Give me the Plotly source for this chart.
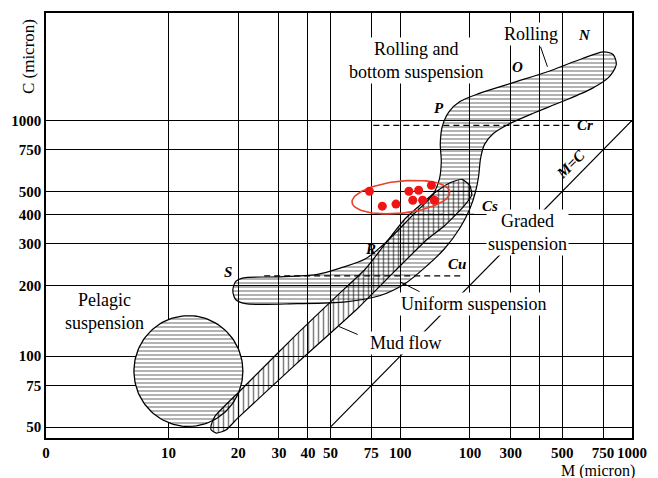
import numpy as np
import plotly.graph_objects as go

# ---------------- axis ticks ----------------
x_tick_vals = [2.965, 10, 20, 30, 40, 50, 75, 100, 200, 300, 400, 500, 750, 1000]
x_tick_text = ["0", "10", "20", "30", "40", "50", "75", "100", "100", "300", "", "500", "750", "1000"]
y_tick_vals = [50, 75, 100, 200, 300, 400, 500, 750, 1000]
y_tick_text = ["50", "75", "100", "200", "300", "400", "500", "750", "1000"]

# ---------------- field outlines (M, C in micron) ----------------
# S - R - Q - P - O - N band (horizontal hatching)
band_M = [18.96, 19.5, 21.1, 29.4, 43.5, 55.5, 70.9, 87.9, 113.3, 137.7, 147.5, 150.4,
          148.9, 151.9, 162.6, 181.0, 217.9, 306.8, 431.8, 607.7, 753.4, 830.5, 855.2,
          791.1, 670.0, 499.7, 372.9, 292.2, 252.3, 231.1, 222.2, 217.9, 211.6, 199.6,
          181.0, 154.9, 127.4, 104.8, 82.1, 58.3, 35.8, 21.5, 19.5]
band_C = [190, 207, 215, 217, 222, 237, 259, 308, 397, 482, 563, 671,
          792, 943, 1091, 1203, 1300, 1447, 1610, 1827, 1956, 1900, 1724,
          1519, 1365, 1203, 1071, 962, 881, 792, 691, 580, 501, 421,
          350, 285, 237, 203, 181, 170, 167, 167, 174]

# Mud flow band (vertical hatching)
mud_M = [15.3, 15.9, 20.5, 35.8, 52.9, 70.9, 104.8, 140.4, 162.6, 184.6, 199.6, 203.5,
         188.3, 154.9, 131.2, 95.0, 66.2, 35.8, 19.9, 17.7, 16.1, 15.3]
mud_C = [51.0, 55.7, 71.7, 124, 179, 235, 382, 492, 542, 563, 531, 482,
         433, 357, 314, 230, 161, 93.2, 54.6, 48.6, 47.2, 48.6]

# Pelagic suspension circle
pelagic_center_M = 12.2
pelagic_center_C = 86.5
pelagic_radius_decades = 0.235

# Samples (red points) and their enclosing ellipse
sample_M = [73.7, 83.7, 95.9, 109.0, 120.1, 113.3, 124.9, 136.4, 140.4]
sample_C = [501, 433, 442, 501, 506, 459, 459, 531, 459]
ellipse_center_M = 100.7
ellipse_center_C = 473
ellipse_semi_major_decades = 0.212
ellipse_semi_minor_decades = 0.068
ellipse_tilt_deg = 6

# Reference lines
Cr_M = [76.6, 540]
Cr_C = [953, 953]
Cs_M = [88.7, 213.7]
Cs_C = [400, 400]
Cu_M = [25.9, 188.3]
Cu_C = [219, 219]
MC_M = [50, 1000]
MC_C = [50, 1000]

SERIF = "Liberation Serif"

fig = go.Figure()

# main band
fig.add_trace(go.Scatter(
    x=band_M + band_M[:1], y=band_C + band_C[:1], mode="lines",
    line=dict(color="black", width=1.2, shape="spline", smoothing=0.8),
    fill="toself", fillcolor="rgba(0,0,0,0)",
    fillpattern=dict(shape="-", fgcolor="black", bgcolor="rgba(255,255,255,0)",
                     size=4, solidity=0.3),
    hoverinfo="skip", showlegend=False))

# pelagic circle
t = np.linspace(0, 2 * np.pi, 120)
circ_M = 10 ** (np.log10(pelagic_center_M) + pelagic_radius_decades * np.cos(t))
circ_C = 10 ** (np.log10(pelagic_center_C) + pelagic_radius_decades * np.sin(t))
fig.add_trace(go.Scatter(
    x=circ_M, y=circ_C, mode="lines",
    line=dict(color="black", width=1.3),
    fill="toself", fillcolor="white",
    fillpattern=dict(shape="-", fgcolor="black", bgcolor="white", size=4, solidity=0.3),
    hoverinfo="skip", showlegend=False))

# mud flow band
fig.add_trace(go.Scatter(
    x=mud_M + mud_M[:1], y=mud_C + mud_C[:1], mode="lines",
    line=dict(color="black", width=1.2, shape="spline", smoothing=0.5),
    fill="toself", fillcolor="rgba(0,0,0,0)",
    fillpattern=dict(shape="|", fgcolor="black", bgcolor="rgba(255,255,255,0)",
                     size=5, solidity=0.3),
    hoverinfo="skip", showlegend=False))

# dashed reference lines
for xs, ys in [(Cr_M, Cr_C), (Cs_M, Cs_C), (Cu_M, Cu_C)]:
    fig.add_trace(go.Scatter(x=xs, y=ys, mode="lines",
                             line=dict(color="black", width=1.2, dash="6px,4px"),
                             hoverinfo="skip", showlegend=False))

# M = C line
fig.add_trace(go.Scatter(x=MC_M, y=MC_C, mode="lines",
                         line=dict(color="black", width=1.2),
                         hoverinfo="skip", showlegend=False))

# red ellipse
phi = np.deg2rad(ellipse_tilt_deg)
ex = (ellipse_semi_major_decades * np.cos(t) * np.cos(phi)
      - ellipse_semi_minor_decades * np.sin(t) * np.sin(phi))
ey = (ellipse_semi_major_decades * np.cos(t) * np.sin(phi)
      + ellipse_semi_minor_decades * np.sin(t) * np.cos(phi))
fig.add_trace(go.Scatter(
    x=10 ** (np.log10(ellipse_center_M) + ex), y=10 ** (np.log10(ellipse_center_C) + ey),
    mode="lines", line=dict(color="#e8402a", width=1.6),
    hoverinfo="skip", showlegend=False))

# red sample points
fig.add_trace(go.Scatter(x=sample_M, y=sample_C, mode="markers",
                         marker=dict(color="#f01414", size=9, symbol="circle",
                                     line=dict(color="#f01414", width=0)),
                         hoverinfo="skip", showlegend=False))

# ---------------- annotations ----------------
L, R, T, B = 45, 17, 11, 40
W, H = 658, 478
PW, PH = W - L - R, H - T - B


def px(xp, yp):
    return (xp - L) / PW, (H - B - yp) / PH


annots = []


def label(text, xp, yp, size=18, italic=False, bold=False, bg=True, angle=0):
    x, y = px(xp, yp)
    annots.append(dict(
        text=text, x=x, y=y, xref="paper", yref="paper", showarrow=False,
        font=dict(family=SERIF, size=size, color="black",
                  style="italic" if italic else "normal",
                  weight="bold" if bold else "normal"),
        bgcolor="white" if bg else "rgba(0,0,0,0)", borderpad=1,
        textangle=angle, xanchor="center", yanchor="middle"))


label("Rolling and<br>bottom suspension", 422, 59)
label("Rolling", 538, 32)
label("Graded<br>suspension", 535, 232)
label("Uniform suspension", 480, 303)
label("Mud flow", 411, 343)
label("Pelagic<br>suspension", 105, 311, bg=False)
for txt, xx, yy in [("N", 593, 33), ("O", 525, 65), ("P", 445, 106), ("R", 375, 248),
                    ("S", 230, 271), ("Cr", 593, 124), ("Cs", 497, 205), ("Cu", 463, 263)]:
    label(txt, xx, yy, size=15, italic=True, bold=True, bg=False)
label("M=C", 579, 163, size=15, italic=True, bold=True, bg=False, angle=-45)

# axis titles
label("C (micron)", 27, 55, size=17, bg=False, angle=-90)
label("M (micron)", 606, 471, size=16, bg=False)

# leader lines
shapes = []
for (x0p, y0p, x1p, y1p) in [(548, 45, 555, 65), (405, 281, 425, 291), (343, 326, 362, 334)]:
    a0, b0 = px(x0p, y0p)
    a1, b1 = px(x1p, y1p)
    shapes.append(dict(type="line", xref="paper", yref="paper", x0=a0, y0=b0, x1=a1, y1=b1,
                       line=dict(color="black", width=1)))

axis_common = dict(
    type="log", showgrid=True, gridcolor="black", gridwidth=1,
    showline=True, linecolor="black", linewidth=1.5, mirror=True,
    ticks="", zeroline=False,
    tickfont=dict(family=SERIF, size=15, color="black", weight="bold"),
)

fig.update_layout(
    width=W, height=H,
    margin=dict(l=L, r=R, t=T, b=B, pad=0),
    paper_bgcolor="white", plot_bgcolor="white",
    showlegend=False,
    xaxis=dict(range=[0.472, 3.0], tickvals=x_tick_vals, ticktext=x_tick_text,
               tickangle=0, **axis_common),
    yaxis=dict(range=[1.653, 3.456], tickvals=y_tick_vals, ticktext=y_tick_text,
               **axis_common),
    annotations=annots,
    shapes=shapes,
)

fig.write_html("out.html", config={"displayModeBar": False},
               post_script="document.body.style.margin='0px';")
